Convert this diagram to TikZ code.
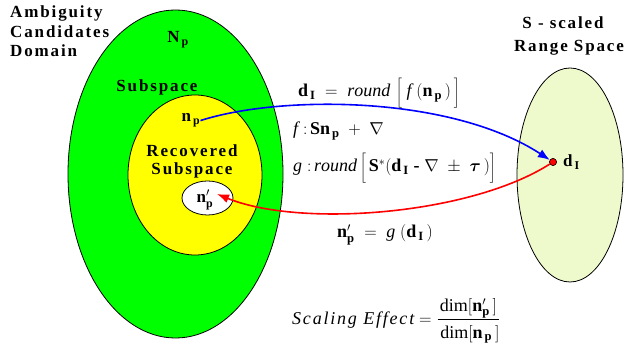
\documentclass[tikz,border=0pt]{standalone}
\usepackage{fontspec}
\setmainfont{Liberation Serif}
\usepackage{bm}
\usetikzlibrary{shapes.geometric,arrows.meta}
\definecolor{rangecol}{RGB}{238,250,204}
\definecolor{domgreen}{RGB}{0,255,0}
\definecolor{recyellow}{RGB}{255,255,0}
\definecolor{bluearr}{RGB}{0,0,255}
\definecolor{redarr}{RGB}{255,0,0}
\tikzset{
  ell/.style={ellipse, draw=black, line width=0.8pt, inner sep=0pt},
  lbl/.style={font=\fontsize{17}{19}\selectfont\bfseries\addfontfeatures{LetterSpace=11}, inner sep=0pt},
  eqn/.style={font=\fontsize{18}{21}\selectfont, inner sep=0pt, anchor=base west},
  conn/.style={line width=1.6pt},
  tip/.style={-{Latex[length=12pt,width=9pt]}}
}
\newcommand{\bsb}[2]{\mathbf{#1}_{\,\mathbf{#2}}}
\newcommand{\tallstrut}{\rule[-5pt]{0pt}{23pt}}
\begin{document}
\begin{tikzpicture}[x=1pt,y=-1pt]
\useasboundingbox (0,0) rectangle (626,352);
% regions
\node[ell, fill=domgreen, minimum width=215pt, minimum height=328pt] (dom) at (175.5,174) {};
\node[ell, fill=recyellow, minimum width=134pt, minimum height=160pt] (rec) at (195,175) {};
\node[ell, fill=white, minimum width=51pt, minimum height=34pt] (inner) at (207.5,198) {};
\node[ell, fill=rangecol, minimum width=106pt, minimum height=214pt] (rng) at (570,175) {};
% titles
\node[lbl, anchor=base west] (t1) at (10,18) {Ambiguity};
\node[lbl, anchor=base west] (t2) at (10,38) {Candidates};
\node[lbl, anchor=base west] (t3) at (10,57) {Domain};
\node[lbl, anchor=base] (s1) at (563,29) {S - scaled};
\node[lbl, anchor=base] (s2) at (569,52) {Range Space};
% region labels
\node[lbl, anchor=base] (Np) at (178,43) {N$_{\,\mathbf{p}}$};
\node[lbl, anchor=base] (sub) at (157,92) {Subspace};
\node[lbl, anchor=base] (rc1) at (192,157) {Recovered};
\node[lbl, anchor=base] (rc2) at (192,175) {Subspace};
\node[lbl, anchor=base] (np) at (191,122) {$\bsb{n}{p}$};
\node[lbl, anchor=base] (npp) at (205,203) {$\mathbf{n}'_{\mathbf{p}}$};
\node[lbl, anchor=base west] (dI) at (563,167) {$\bsb{d}{I}$};
% equations
\node[eqn] (e1) at (298,97) {$\bsb{d}{I} \;=\; \mathit{round}\,\left[\tallstrut\;\mathit{f}\;(\bsb{n}{p}\,)\,\right]$};
\node[eqn] (e2) at (293,135) {$\mathit{f}\;{:}\,\mathbf{S}\bsb{n}{p} \;+\; \nabla$};
\node[eqn] (e3) at (293,172) {$\mathit{g}\;{:}\,\mathit{round}\left[\tallstrut\,\mathbf{S}^{*}(\bsb{d}{I}\;\textbf{-}\;\nabla \;\pm\; \bm{\tau}\,)\right]$};
\node[eqn] (e4) at (337,238) {$\mathbf{n}'_{\mathbf{p}} \;=\; \mathit{g}\;(\bsb{d}{I}\,)$};
\node[eqn] (e5) at (292,324) {$\mbox{\itshape\addfontfeatures{LetterSpace=10}Scaling Effect} = \displaystyle\frac{\dim[\mathbf{n}'_{\mathbf{p}}\,]\rule[-4pt]{0pt}{4pt}}{\rule{0pt}{17pt}\dim[\bsb{n}{p}\,]}$};
% connectors
\node[circle, fill=redarr, draw=black, line width=0.5pt, minimum size=7pt, inner sep=0pt] (dot) at (553,162) {};
\coordinate (redtip) at (217,194);
\draw[conn, bluearr, tip] (np.east) .. controls (280,95) and (450,95) .. (dot);
\draw[conn, redarr, tip] (dot) .. controls (470,215) and (300,228) .. (redtip);
\node[circle, fill=redarr, draw=black, line width=0.5pt, minimum size=7pt, inner sep=0pt] at (dot) {};
\end{tikzpicture}
\end{document}
